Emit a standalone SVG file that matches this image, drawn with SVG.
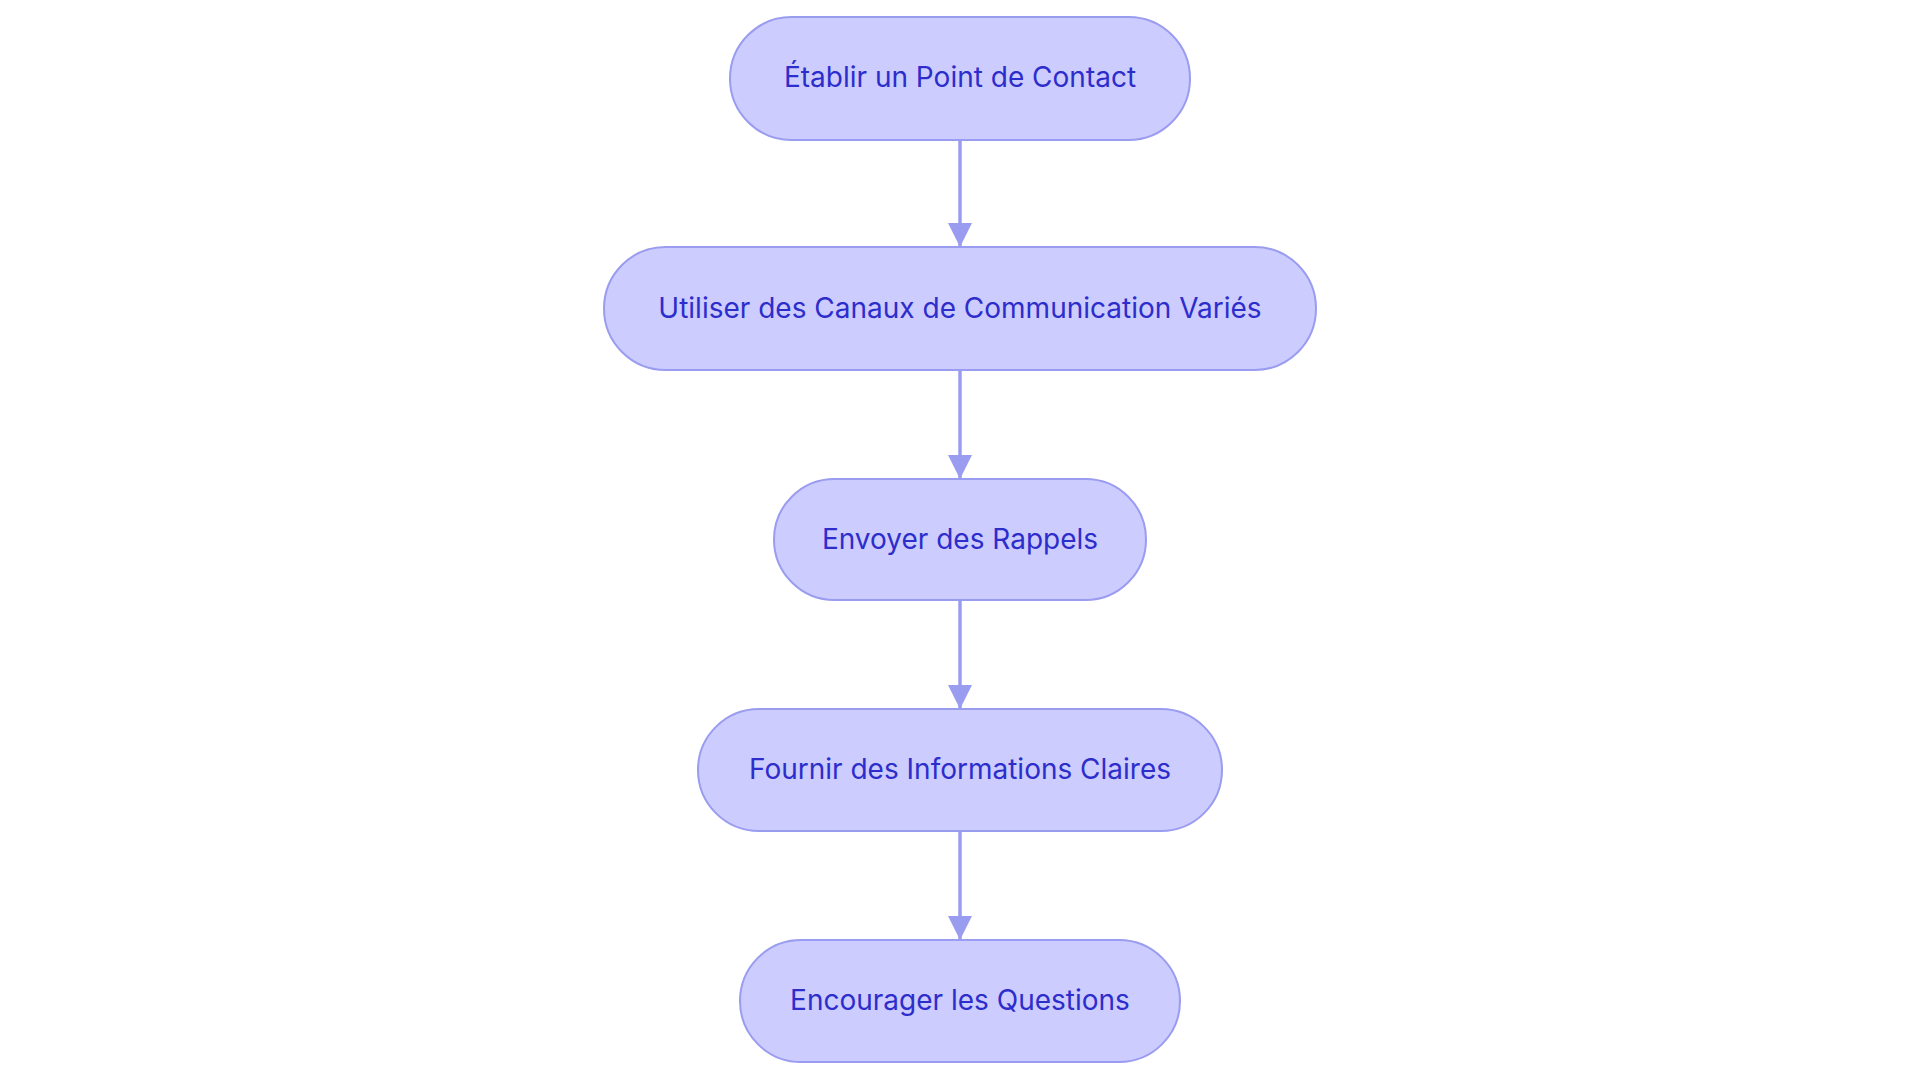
<svg xmlns="http://www.w3.org/2000/svg" width="1920" height="1083" viewBox="0 0 1920 1083">
<style>
.n rect{fill:#ccccff;stroke:#9a9cf0;stroke-width:2}
.n text{font-family:Inter,"Noto Sans",sans-serif;font-size:28px;fill:#2d2dcc;text-anchor:middle;dominant-baseline:central}
.e line{stroke:#9a9cf0;stroke-width:3.5;marker-end:url(#a)}
</style>
<defs><marker id="a" viewBox="0 0 10 10" refX="10" refY="5" markerWidth="7" markerHeight="7" markerUnits="strokeWidth" orient="auto"><path d="M0,0L10,5L0,10z" fill="#9a9cf0"/></marker></defs>
<rect width="1920" height="1083" fill="#fff"/>
<g class="e">
<line x1="960" y1="140" x2="960" y2="247"/>
<line x1="960" y1="370" x2="960" y2="479"/>
<line x1="960" y1="600" x2="960" y2="709"/>
<line x1="960" y1="831" x2="960" y2="940"/>
</g>
<g id="n1" class="n"><rect x="730" y="17" width="460" height="123" rx="61.5"/><text x="960" y="77">Établir un Point de Contact</text></g>
<g id="n2" class="n"><rect x="604" y="247" width="712" height="123" rx="61.5"/><text x="960" y="308">Utiliser des Canaux de Communication Variés</text></g>
<g id="n3" class="n"><rect x="774" y="479" width="372" height="121" rx="60.5"/><text x="960" y="539">Envoyer des Rappels</text></g>
<g id="n4" class="n"><rect x="698" y="709" width="524" height="122" rx="61"/><text x="960" y="769">Fournir des Informations Claires</text></g>
<g id="n5" class="n"><rect x="740" y="940" width="440" height="122" rx="61"/><text x="960" y="1000">Encourager les Questions</text></g>
</svg>
